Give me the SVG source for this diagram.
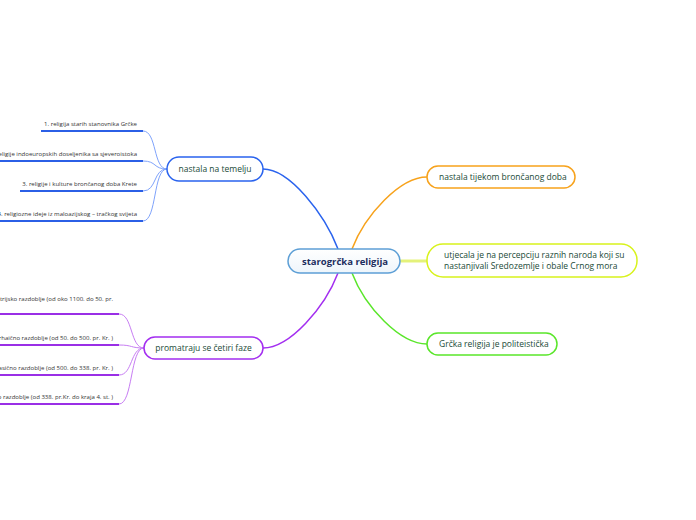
<svg xmlns="http://www.w3.org/2000/svg" width="696" height="520" viewBox="0 0 696 520">
<defs>
<style>
.t{font-family:"Open Sans","Noto Sans","DejaVu Sans",sans-serif;fill:#1a4a38;font-size:8.5px}
.leaf{font-family:"Open Sans","Noto Sans","DejaVu Sans",sans-serif;fill:#333;font-size:6.05px;text-anchor:end}
.c{fill:none}
</style>
<linearGradient id="cg" x1="0" y1="0" x2="0" y2="1"><stop offset="0" stop-color="#fff"/><stop offset="1" stop-color="#eef5fb"/></linearGradient>
</defs>
<rect width="696" height="520" fill="#fff"/>
<g id="connectors">
<path class="c" d="M338,249 C325,215 290,169 263,169" stroke="#2a63ee" stroke-width="1.5"/>
<path class="c" d="M352,249 C365,215 400,177 427,177" stroke="#f7a21b" stroke-width="1.5"/>
<path class="c" d="M400,261 L427,261" stroke="#e4f27a" stroke-width="3"/>
<path class="c" d="M352,273 C365,307 400,344 427,344" stroke="#5ae62a" stroke-width="1.5"/>
<path class="c" d="M338,273 C325,307 290,348 263,348" stroke="#a32ef0" stroke-width="1.5"/>
<g stroke="#7fa3fb" stroke-width="1">
<path class="c" d="M143,131 C157,131 153,169 167,169"/>
<path class="c" d="M143,161 C157,161 153,169 167,169"/>
<path class="c" d="M143,191 C157,191 153,169 167,169"/>
<path class="c" d="M143,221 C157,221 153,169 167,169"/>
</g>
<g stroke="#c77df3" stroke-width="1">
<path class="c" d="M119,314 C133,314 130,348 144,348"/>
<path class="c" d="M119,345 C133,345 130,348 144,348"/>
<path class="c" d="M119,375 C133,375 130,348 144,348"/>
<path class="c" d="M119,404 C133,404 130,348 144,348"/>
</g>
<g stroke="#2b5fe6" stroke-width="2">
<path class="c" d="M41,131 H143"/>
<path class="c" d="M0,161 H143"/>
<path class="c" d="M20,191 H143"/>
<path class="c" d="M0,221 H143"/>
</g>
<g stroke="#9a2fe6" stroke-width="2">
<path class="c" d="M0,314 H119"/>
<path class="c" d="M0,345 H119"/>
<path class="c" d="M0,375 H119"/>
<path class="c" d="M0,404 H119"/>
</g>
</g>
<g id="center">
<rect x="288" y="249" width="112" height="24" rx="12" fill="url(#cg)" stroke="#5d9fd6" stroke-width="1.5"/>
<text x="345" y="264.5" text-anchor="middle" style="font-family:'Open Sans','Noto Sans',sans-serif;font-weight:bold;font-size:9.5px;fill:#1c2d5e">starogrčka religija</text>
</g>
<g id="n-bronca">
<rect x="427" y="166" width="148" height="22" rx="11" fill="#fff" stroke="#f7a21b" stroke-width="1.5"/>
<text class="t" x="439" y="180">nastala tijekom brončanog doba</text>
</g>
<g id="n-utjecala">
<rect x="427" y="244" width="210" height="33" rx="16" fill="#fff" stroke="#d8f21c" stroke-width="1.5"/>
<text class="t" x="444" y="258">utjecala je na percepciju raznih naroda koji su</text>
<text class="t" x="444" y="269">nastanjivali Sredozemlje i obale Crnog mora</text>
</g>
<g id="n-politeisticka">
<rect x="427" y="333" width="130" height="22" rx="11" fill="#fff" stroke="#5ae62a" stroke-width="1.5"/>
<text class="t" x="439" y="347">Grčka religija je politeistička</text>
</g>
<g id="n-temelju">
<rect x="167" y="157" width="96" height="24" rx="12" fill="#fff" stroke="#2a63ee" stroke-width="1.5"/>
<text class="t" x="215" y="172" text-anchor="middle">nastala na temelju</text>
</g>
<g id="n-faze">
<rect x="144" y="337" width="119" height="22" rx="11" fill="#fff" stroke="#a32ef0" stroke-width="1.5"/>
<text class="t" x="203.5" y="351" text-anchor="middle">promatraju se četiri faze</text>
</g>
<g id="leaf-t1"><text class="leaf" x="137" y="126">1. religija starih stanovnika Grčke</text></g>
<g id="leaf-t2"><text class="leaf" x="137" y="156">2. religije indoeuropskih doseljenika sa sjeveroistoka</text></g>
<g id="leaf-t3"><text class="leaf" x="137" y="186">3. religije i kulture brončanog doba Krete</text></g>
<g id="leaf-t4"><text class="leaf" x="137" y="216">4. religiozne ideje iz maloazijskog – tračkog svijeta</text></g>
<g id="leaf-f1"><text class="leaf" x="113" y="301">1. geometrijsko razdoblje (od oko 1100. do 50. pr.</text></g>
<g id="leaf-f2"><text class="leaf" x="113" y="340">2. arhaično razdoblje (od 50. do 500. pr. Kr. )</text></g>
<g id="leaf-f3"><text class="leaf" x="113" y="370">3. klasično razdoblje (od 500. do 338. pr. Kr. )</text></g>
<g id="leaf-f4"><text class="leaf" x="113" y="399">4. helenističko razdoblje (od 338. pr.Kr. do kraja 4. st. )</text></g>
</svg>
